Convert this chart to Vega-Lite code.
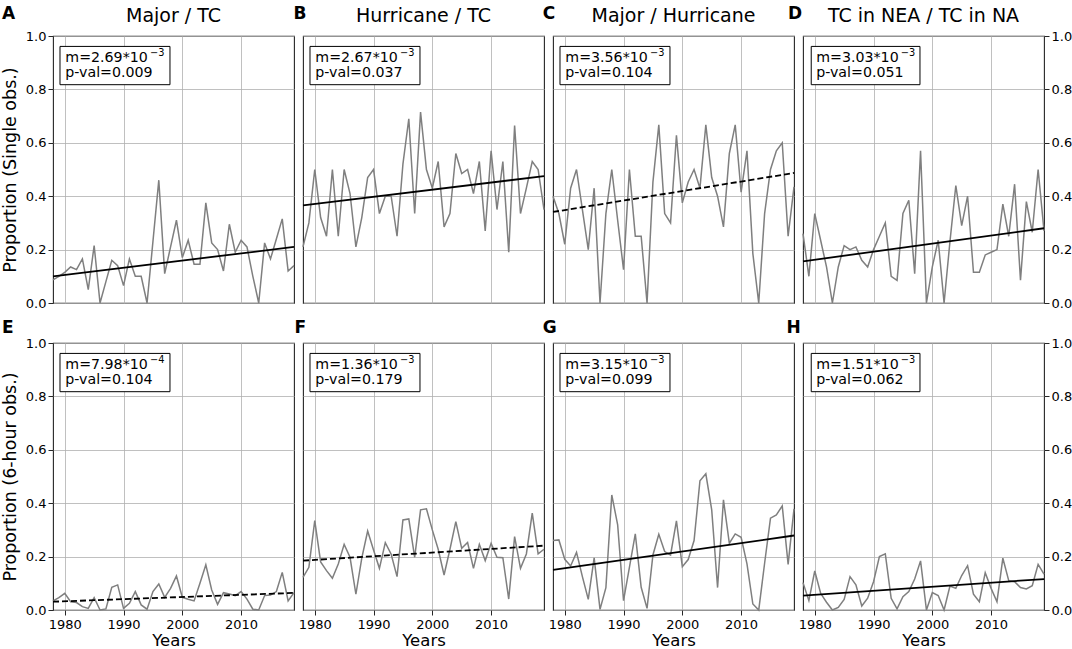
{
"$schema": "https://vega.github.io/schema/vega-lite/v6.json",
"background": "white",
"padding": {"left": 0, "top": 4, "right": 0, "bottom": 0},
"columns": 4,
"spacing": {"row": 40, "column": 9},
"bounds": "flush",
"datasets": {
"series": [
{"p":"A","year":1978,"v":0.087},{"p":"A","year":1979,"v":0.10},{"p":"A","year":1980,"v":0.115},{"p":"A","year":1981,"v":0.135},{"p":"A","year":1982,"v":0.125},{"p":"A","year":1983,"v":0.165},{"p":"A","year":1984,"v":0.05},{"p":"A","year":1985,"v":0.215},{"p":"A","year":1986,"v":0},{"p":"A","year":1987,"v":0.08},{"p":"A","year":1988,"v":0.16},{"p":"A","year":1989,"v":0.14},{"p":"A","year":1990,"v":0.065},{"p":"A","year":1991,"v":0.165},{"p":"A","year":1992,"v":0.10},{"p":"A","year":1993,"v":0.10},{"p":"A","year":1994,"v":0},{"p":"A","year":1995,"v":0.23},{"p":"A","year":1996,"v":0.46},{"p":"A","year":1997,"v":0.11},{"p":"A","year":1998,"v":0.21},{"p":"A","year":1999,"v":0.31},{"p":"A","year":2000,"v":0.17},{"p":"A","year":2001,"v":0.235},{"p":"A","year":2002,"v":0.145},{"p":"A","year":2003,"v":0.145},{"p":"A","year":2004,"v":0.375},{"p":"A","year":2005,"v":0.225},{"p":"A","year":2006,"v":0.2},{"p":"A","year":2007,"v":0.12},{"p":"A","year":2008,"v":0.295},{"p":"A","year":2009,"v":0.19},{"p":"A","year":2010,"v":0.235},{"p":"A","year":2011,"v":0.21},{"p":"A","year":2012,"v":0.1},{"p":"A","year":2013,"v":0},{"p":"A","year":2014,"v":0.225},{"p":"A","year":2015,"v":0.165},{"p":"A","year":2016,"v":0.24},{"p":"A","year":2017,"v":0.315},{"p":"A","year":2018,"v":0.12},{"p":"A","year":2019,"v":0.14},
{"p":"B","year":1978,"v":0.21},{"p":"B","year":1979,"v":0.30},{"p":"B","year":1980,"v":0.50},{"p":"B","year":1981,"v":0.32},{"p":"B","year":1982,"v":0.25},{"p":"B","year":1983,"v":0.50},{"p":"B","year":1984,"v":0.25},{"p":"B","year":1985,"v":0.50},{"p":"B","year":1986,"v":0.41},{"p":"B","year":1987,"v":0.21},{"p":"B","year":1988,"v":0.32},{"p":"B","year":1989,"v":0.47},{"p":"B","year":1990,"v":0.50},{"p":"B","year":1991,"v":0.335},{"p":"B","year":1992,"v":0.40},{"p":"B","year":1993,"v":0.40},{"p":"B","year":1994,"v":0.25},{"p":"B","year":1995,"v":0.52},{"p":"B","year":1996,"v":0.69},{"p":"B","year":1997,"v":0.335},{"p":"B","year":1998,"v":0.715},{"p":"B","year":1999,"v":0.50},{"p":"B","year":2000,"v":0.43},{"p":"B","year":2001,"v":0.53},{"p":"B","year":2002,"v":0.285},{"p":"B","year":2003,"v":0.335},{"p":"B","year":2004,"v":0.56},{"p":"B","year":2005,"v":0.485},{"p":"B","year":2006,"v":0.50},{"p":"B","year":2007,"v":0.41},{"p":"B","year":2008,"v":0.53},{"p":"B","year":2009,"v":0.27},{"p":"B","year":2010,"v":0.57},{"p":"B","year":2011,"v":0.35},{"p":"B","year":2012,"v":0.53},{"p":"B","year":2013,"v":0.19},{"p":"B","year":2014,"v":0.665},{"p":"B","year":2015,"v":0.335},{"p":"B","year":2016,"v":0.43},{"p":"B","year":2017,"v":0.53},{"p":"B","year":2018,"v":0.50},{"p":"B","year":2019,"v":0.35},
{"p":"C","year":1978,"v":0.40},{"p":"C","year":1979,"v":0.335},{"p":"C","year":1980,"v":0.22},{"p":"C","year":1981,"v":0.43},{"p":"C","year":1982,"v":0.50},{"p":"C","year":1983,"v":0.35},{"p":"C","year":1984,"v":0.20},{"p":"C","year":1985,"v":0.43},{"p":"C","year":1986,"v":0},{"p":"C","year":1987,"v":0.335},{"p":"C","year":1988,"v":0.50},{"p":"C","year":1989,"v":0.31},{"p":"C","year":1990,"v":0.125},{"p":"C","year":1991,"v":0.50},{"p":"C","year":1992,"v":0.25},{"p":"C","year":1993,"v":0.25},{"p":"C","year":1994,"v":0},{"p":"C","year":1995,"v":0.453},{"p":"C","year":1996,"v":0.667},{"p":"C","year":1997,"v":0.335},{"p":"C","year":1998,"v":0.30},{"p":"C","year":1999,"v":0.628},{"p":"C","year":2000,"v":0.375},{"p":"C","year":2001,"v":0.453},{"p":"C","year":2002,"v":0.50},{"p":"C","year":2003,"v":0.43},{"p":"C","year":2004,"v":0.667},{"p":"C","year":2005,"v":0.47},{"p":"C","year":2006,"v":0.40},{"p":"C","year":2007,"v":0.285},{"p":"C","year":2008,"v":0.56},{"p":"C","year":2009,"v":0.667},{"p":"C","year":2010,"v":0.415},{"p":"C","year":2011,"v":0.57},{"p":"C","year":2012,"v":0.185},{"p":"C","year":2013,"v":0},{"p":"C","year":2014,"v":0.335},{"p":"C","year":2015,"v":0.50},{"p":"C","year":2016,"v":0.57},{"p":"C","year":2017,"v":0.60},{"p":"C","year":2018,"v":0.25},{"p":"C","year":2019,"v":0.435},
{"p":"D","year":1978,"v":0.26},{"p":"D","year":1979,"v":0.10},{"p":"D","year":1980,"v":0.335},{"p":"D","year":1981,"v":0.235},{"p":"D","year":1982,"v":0.135},{"p":"D","year":1983,"v":0},{"p":"D","year":1984,"v":0.135},{"p":"D","year":1985,"v":0.215},{"p":"D","year":1986,"v":0.20},{"p":"D","year":1987,"v":0.21},{"p":"D","year":1988,"v":0.16},{"p":"D","year":1989,"v":0.135},{"p":"D","year":1990,"v":0.20},{"p":"D","year":1991,"v":0.25},{"p":"D","year":1992,"v":0.30},{"p":"D","year":1993,"v":0.10},{"p":"D","year":1994,"v":0.085},{"p":"D","year":1995,"v":0.335},{"p":"D","year":1996,"v":0.385},{"p":"D","year":1997,"v":0.11},{"p":"D","year":1998,"v":0.57},{"p":"D","year":1999,"v":0},{"p":"D","year":2000,"v":0.135},{"p":"D","year":2001,"v":0.235},{"p":"D","year":2002,"v":0},{"p":"D","year":2003,"v":0.23},{"p":"D","year":2004,"v":0.44},{"p":"D","year":2005,"v":0.29},{"p":"D","year":2006,"v":0.40},{"p":"D","year":2007,"v":0.115},{"p":"D","year":2008,"v":0.115},{"p":"D","year":2009,"v":0.18},{"p":"D","year":2010,"v":0.19},{"p":"D","year":2011,"v":0.20},{"p":"D","year":2012,"v":0.37},{"p":"D","year":2013,"v":0.25},{"p":"D","year":2014,"v":0.445},{"p":"D","year":2015,"v":0.085},{"p":"D","year":2016,"v":0.38},{"p":"D","year":2017,"v":0.265},{"p":"D","year":2018,"v":0.50},{"p":"D","year":2019,"v":0.27},
{"p":"E","year":1978,"v":0.034},{"p":"E","year":1979,"v":0.046},{"p":"E","year":1980,"v":0.0625},{"p":"E","year":1981,"v":0.031},{"p":"E","year":1982,"v":0.028},{"p":"E","year":1983,"v":0.0125},{"p":"E","year":1984,"v":0.006},{"p":"E","year":1985,"v":0.046},{"p":"E","year":1986,"v":0},{"p":"E","year":1987,"v":0.004},{"p":"E","year":1988,"v":0.085},{"p":"E","year":1989,"v":0.094},{"p":"E","year":1990,"v":0.006},{"p":"E","year":1991,"v":0.025},{"p":"E","year":1992,"v":0.069},{"p":"E","year":1993,"v":0.019},{"p":"E","year":1994,"v":0.003},{"p":"E","year":1995,"v":0.069},{"p":"E","year":1996,"v":0.0975},{"p":"E","year":1997,"v":0.0475},{"p":"E","year":1998,"v":0.081},{"p":"E","year":1999,"v":0.1275},{"p":"E","year":2000,"v":0.0475},{"p":"E","year":2001,"v":0.04},{"p":"E","year":2002,"v":0.034},{"p":"E","year":2003,"v":0.10},{"p":"E","year":2004,"v":0.169},{"p":"E","year":2005,"v":0.075},{"p":"E","year":2006,"v":0.021},{"p":"E","year":2007,"v":0.065},{"p":"E","year":2008,"v":0.06},{"p":"E","year":2009,"v":0.054},{"p":"E","year":2010,"v":0.069},{"p":"E","year":2011,"v":0.041},{"p":"E","year":2012,"v":0.003},{"p":"E","year":2013,"v":0},{"p":"E","year":2014,"v":0.054},{"p":"E","year":2015,"v":0.056},{"p":"E","year":2016,"v":0.069},{"p":"E","year":2017,"v":0.141},{"p":"E","year":2018,"v":0.034},{"p":"E","year":2019,"v":0.065},
{"p":"F","year":1978,"v":0.1225},{"p":"F","year":1979,"v":0.16},{"p":"F","year":1980,"v":0.335},{"p":"F","year":1981,"v":0.18},{"p":"F","year":1982,"v":0.1475},{"p":"F","year":1983,"v":0.119},{"p":"F","year":1984,"v":0.1725},{"p":"F","year":1985,"v":0.246},{"p":"F","year":1986,"v":0.1975},{"p":"F","year":1987,"v":0.059},{"p":"F","year":1988,"v":0.194},{"p":"F","year":1989,"v":0.296},{"p":"F","year":1990,"v":0.225},{"p":"F","year":1991,"v":0.156},{"p":"F","year":1992,"v":0.2525},{"p":"F","year":1993,"v":0.209},{"p":"F","year":1994,"v":0.125},{"p":"F","year":1995,"v":0.3375},{"p":"F","year":1996,"v":0.341},{"p":"F","year":1997,"v":0.1975},{"p":"F","year":1998,"v":0.375},{"p":"F","year":1999,"v":0.379},{"p":"F","year":2000,"v":0.30},{"p":"F","year":2001,"v":0.2275},{"p":"F","year":2002,"v":0.131},{"p":"F","year":2003,"v":0.2275},{"p":"F","year":2004,"v":0.331},{"p":"F","year":2005,"v":0.231},{"p":"F","year":2006,"v":0.2525},{"p":"F","year":2007,"v":0.156},{"p":"F","year":2008,"v":0.246},{"p":"F","year":2009,"v":0.185},{"p":"F","year":2010,"v":0.25},{"p":"F","year":2011,"v":0.1975},{"p":"F","year":2012,"v":0.196},{"p":"F","year":2013,"v":0.041},{"p":"F","year":2014,"v":0.275},{"p":"F","year":2015,"v":0.156},{"p":"F","year":2016,"v":0.21},{"p":"F","year":2017,"v":0.3625},{"p":"F","year":2018,"v":0.21},{"p":"F","year":2019,"v":0.2275},
{"p":"G","year":1978,"v":0.26},{"p":"G","year":1979,"v":0.2625},{"p":"G","year":1980,"v":0.19},{"p":"G","year":1981,"v":0.165},{"p":"G","year":1982,"v":0.216},{"p":"G","year":1983,"v":0.125},{"p":"G","year":1984,"v":0.04},{"p":"G","year":1985,"v":0.195},{"p":"G","year":1986,"v":0.0025},{"p":"G","year":1987,"v":0.084},{"p":"G","year":1988,"v":0.431},{"p":"G","year":1989,"v":0.319},{"p":"G","year":1990,"v":0.035},{"p":"G","year":1991,"v":0.16},{"p":"G","year":1992,"v":0.285},{"p":"G","year":1993,"v":0.085},{"p":"G","year":1994,"v":0.006},{"p":"G","year":1995,"v":0.206},{"p":"G","year":1996,"v":0.284},{"p":"G","year":1997,"v":0.219},{"p":"G","year":1998,"v":0.206},{"p":"G","year":1999,"v":0.334},{"p":"G","year":2000,"v":0.1625},{"p":"G","year":2001,"v":0.189},{"p":"G","year":2002,"v":0.26},{"p":"G","year":2003,"v":0.484},{"p":"G","year":2004,"v":0.51},{"p":"G","year":2005,"v":0.375},{"p":"G","year":2006,"v":0.084},{"p":"G","year":2007,"v":0.4125},{"p":"G","year":2008,"v":0.25},{"p":"G","year":2009,"v":0.285},{"p":"G","year":2010,"v":0.2725},{"p":"G","year":2011,"v":0.1725},{"p":"G","year":2012,"v":0.0225},{"p":"G","year":2013,"v":0},{"p":"G","year":2014,"v":0.175},{"p":"G","year":2015,"v":0.344},{"p":"G","year":2016,"v":0.356},{"p":"G","year":2017,"v":0.39},{"p":"G","year":2018,"v":0.171},{"p":"G","year":2019,"v":0.379},
{"p":"H","year":1978,"v":0.1025},{"p":"H","year":1979,"v":0.035},{"p":"H","year":1980,"v":0.146},{"p":"H","year":1981,"v":0.0625},{"p":"H","year":1982,"v":0.029},{"p":"H","year":1983,"v":0},{"p":"H","year":1984,"v":0.01},{"p":"H","year":1985,"v":0.04},{"p":"H","year":1986,"v":0.125},{"p":"H","year":1987,"v":0.094},{"p":"H","year":1988,"v":0.015},{"p":"H","year":1989,"v":0.044},{"p":"H","year":1990,"v":0.106},{"p":"H","year":1991,"v":0.20},{"p":"H","year":1992,"v":0.21},{"p":"H","year":1993,"v":0.044},{"p":"H","year":1994,"v":0.004},{"p":"H","year":1995,"v":0.05},{"p":"H","year":1996,"v":0.069},{"p":"H","year":1997,"v":0.116},{"p":"H","year":1998,"v":0.184},{"p":"H","year":1999,"v":0},{"p":"H","year":2000,"v":0.065},{"p":"H","year":2001,"v":0.054},{"p":"H","year":2002,"v":0},{"p":"H","year":2003,"v":0.09},{"p":"H","year":2004,"v":0.081},{"p":"H","year":2005,"v":0.129},{"p":"H","year":2006,"v":0.166},{"p":"H","year":2007,"v":0.059},{"p":"H","year":2008,"v":0.031},{"p":"H","year":2009,"v":0.14},{"p":"H","year":2010,"v":0.081},{"p":"H","year":2011,"v":0.031},{"p":"H","year":2012,"v":0.194},{"p":"H","year":2013,"v":0.11},{"p":"H","year":2014,"v":0.106},{"p":"H","year":2015,"v":0.084},{"p":"H","year":2016,"v":0.079},{"p":"H","year":2017,"v":0.091},{"p":"H","year":2018,"v":0.171},{"p":"H","year":2019,"v":0.134}
],
"trend": [
{"p":"A","year":1978,"v":0.100},{"p":"A","year":2019,"v":0.210},
{"p":"B","year":1978,"v":0.366},{"p":"B","year":2019,"v":0.475},
{"p":"C","year":1978,"v":0.341},{"p":"C","year":2019,"v":0.487},
{"p":"D","year":1978,"v":0.156},{"p":"D","year":2019,"v":0.280},
{"p":"E","year":1978,"v":0.031},{"p":"E","year":2019,"v":0.064},
{"p":"F","year":1978,"v":0.185},{"p":"F","year":2019,"v":0.241},
{"p":"G","year":1978,"v":0.150},{"p":"G","year":2019,"v":0.279},
{"p":"H","year":1978,"v":0.054},{"p":"H","year":2019,"v":0.116}
],
"notes": [
{"p":"A","m":"m=2.69*10","e":"−3","pv":"p-val=0.009","head":"Major / TC"},
{"p":"B","m":"m=2.67*10","e":"−3","pv":"p-val=0.037","head":"Hurricane / TC"},
{"p":"C","m":"m=3.56*10","e":"−3","pv":"p-val=0.104","head":"Major / Hurricane"},
{"p":"D","m":"m=3.03*10","e":"−3","pv":"p-val=0.051","head":"TC in NEA / TC in NA"},
{"p":"E","m":"m=7.98*10","e":"−4","pv":"p-val=0.104","head":""},
{"p":"F","m":"m=1.36*10","e":"−3","pv":"p-val=0.179","head":""},
{"p":"G","m":"m=3.15*10","e":"−3","pv":"p-val=0.099","head":""},
{"p":"H","m":"m=1.51*10","e":"−3","pv":"p-val=0.062","head":""}
]
},
"concat": [
{"width": 241, "height": 267, "layer": [
 {"data": {"name": "series"}, "transform": [{"filter": "datum.p === 'A'"}], "mark": {"type": "line", "color": "#7f7f7f", "strokeWidth": 1.5},
  "encoding": {"x": {"field": "year", "type": "quantitative", "scale": {"domain": [1978, 2019], "nice": false, "zero": false}, "axis": {"values": [1980,1990,2000,2010], "labels": false, "ticks": false, "title": null, "grid": true}},
   "y": {"field": "v", "type": "quantitative", "scale": {"domain": [0, 1], "nice": false, "zero": false}, "axis": {"orient": "left", "values": [0,0.2,0.4,0.6,0.8,1], "format": ".1f", "title": "Proportion (Single obs.)", "titleFontSize": 17.5, "titlePadding": 6, "grid": true}}}},
 {"data": {"name": "trend"}, "transform": [{"filter": "datum.p === 'A'"}], "mark": {"type": "line", "color": "black", "strokeWidth": 1.8}, "encoding": {"x": {"field": "year", "type": "quantitative"}, "y": {"field": "v", "type": "quantitative"}}},
 {"data": {"name": "notes"}, "transform": [{"filter": "datum.p === 'A'"}], "mark": {"type": "rect", "fill": "white", "stroke": "black", "strokeWidth": 1}, "encoding": {"x": {"datum": 1979.19, "type": "quantitative"}, "x2": {"datum": 1997.9}, "y": {"datum": 0.961, "type": "quantitative"}, "y2": {"datum": 0.8176}}},
 {"data": {"name": "notes"}, "transform": [{"filter": "datum.p === 'A'"}], "mark": {"type": "text", "align": "left", "baseline": "alphabetic", "fontSize": 14.2}, "encoding": {"x": {"datum": 1980.1, "type": "quantitative"}, "y": {"datum": 0.9026, "type": "quantitative"}, "text": {"field": "m"}}},
 {"data": {"name": "notes"}, "transform": [{"filter": "datum.p === 'A'"}], "mark": {"type": "text", "align": "left", "baseline": "alphabetic", "fontSize": 9.8}, "encoding": {"x": {"datum": 1994.5, "type": "quantitative"}, "y": {"datum": 0.924, "type": "quantitative"}, "text": {"field": "e"}}},
 {"data": {"name": "notes"}, "transform": [{"filter": "datum.p === 'A'"}], "mark": {"type": "text", "align": "left", "baseline": "alphabetic", "fontSize": 14.2}, "encoding": {"x": {"datum": 1980.1, "type": "quantitative"}, "y": {"datum": 0.848, "type": "quantitative"}, "text": {"field": "pv"}}},
 {"data": {"name": "notes"}, "transform": [{"filter": "datum.p === 'A'"}], "mark": {"type": "text", "align": "center", "baseline": "alphabetic", "fontSize": 19}, "encoding": {"x": {"datum": 1998.5, "type": "quantitative"}, "y": {"datum": 1.0536, "type": "quantitative"}, "text": {"field": "head"}}},
 {"data": {"name": "notes"}, "transform": [{"filter": "datum.p === 'A'"}], "mark": {"type": "text", "align": "left", "baseline": "alphabetic", "fontSize": 17, "fontWeight": "bold"}, "encoding": {"x": {"datum": 1969.32, "type": "quantitative"}, "y": {"datum": 1.0637, "type": "quantitative"}, "text": {"field": "p"}}}
]},
{"width": 241, "height": 267, "layer": [
 {"data": {"name": "series"}, "transform": [{"filter": "datum.p === 'B'"}], "mark": {"type": "line", "color": "#7f7f7f", "strokeWidth": 1.5},
  "encoding": {"x": {"field": "year", "type": "quantitative", "scale": {"domain": [1978, 2019], "nice": false, "zero": false}, "axis": {"values": [1980,1990,2000,2010], "labels": false, "ticks": false, "title": null, "grid": true}},
   "y": {"field": "v", "type": "quantitative", "scale": {"domain": [0, 1], "nice": false, "zero": false}, "axis": {"values": [0,0.2,0.4,0.6,0.8,1], "labels": false, "ticks": false, "title": null, "grid": true}}}},
 {"data": {"name": "trend"}, "transform": [{"filter": "datum.p === 'B'"}], "mark": {"type": "line", "color": "black", "strokeWidth": 1.8}, "encoding": {"x": {"field": "year", "type": "quantitative"}, "y": {"field": "v", "type": "quantitative"}}},
 {"data": {"name": "notes"}, "transform": [{"filter": "datum.p === 'B'"}], "mark": {"type": "rect", "fill": "white", "stroke": "black", "strokeWidth": 1}, "encoding": {"x": {"datum": 1979.19, "type": "quantitative"}, "x2": {"datum": 1997.9}, "y": {"datum": 0.961, "type": "quantitative"}, "y2": {"datum": 0.8176}}},
 {"data": {"name": "notes"}, "transform": [{"filter": "datum.p === 'B'"}], "mark": {"type": "text", "align": "left", "baseline": "alphabetic", "fontSize": 14.2}, "encoding": {"x": {"datum": 1980.1, "type": "quantitative"}, "y": {"datum": 0.9026, "type": "quantitative"}, "text": {"field": "m"}}},
 {"data": {"name": "notes"}, "transform": [{"filter": "datum.p === 'B'"}], "mark": {"type": "text", "align": "left", "baseline": "alphabetic", "fontSize": 9.8}, "encoding": {"x": {"datum": 1994.5, "type": "quantitative"}, "y": {"datum": 0.924, "type": "quantitative"}, "text": {"field": "e"}}},
 {"data": {"name": "notes"}, "transform": [{"filter": "datum.p === 'B'"}], "mark": {"type": "text", "align": "left", "baseline": "alphabetic", "fontSize": 14.2}, "encoding": {"x": {"datum": 1980.1, "type": "quantitative"}, "y": {"datum": 0.848, "type": "quantitative"}, "text": {"field": "pv"}}},
 {"data": {"name": "notes"}, "transform": [{"filter": "datum.p === 'B'"}], "mark": {"type": "text", "align": "center", "baseline": "alphabetic", "fontSize": 19}, "encoding": {"x": {"datum": 1998.5, "type": "quantitative"}, "y": {"datum": 1.0536, "type": "quantitative"}, "text": {"field": "head"}}},
 {"data": {"name": "notes"}, "transform": [{"filter": "datum.p === 'B'"}], "mark": {"type": "text", "align": "left", "baseline": "alphabetic", "fontSize": 17, "fontWeight": "bold"}, "encoding": {"x": {"datum": 1976.38, "type": "quantitative"}, "y": {"datum": 1.0637, "type": "quantitative"}, "text": {"field": "p"}}}
]},
{"width": 241, "height": 267, "layer": [
 {"data": {"name": "series"}, "transform": [{"filter": "datum.p === 'C'"}], "mark": {"type": "line", "color": "#7f7f7f", "strokeWidth": 1.5},
  "encoding": {"x": {"field": "year", "type": "quantitative", "scale": {"domain": [1978, 2019], "nice": false, "zero": false}, "axis": {"values": [1980,1990,2000,2010], "labels": false, "ticks": false, "title": null, "grid": true}},
   "y": {"field": "v", "type": "quantitative", "scale": {"domain": [0, 1], "nice": false, "zero": false}, "axis": {"values": [0,0.2,0.4,0.6,0.8,1], "labels": false, "ticks": false, "title": null, "grid": true}}}},
 {"data": {"name": "trend"}, "transform": [{"filter": "datum.p === 'C'"}], "mark": {"type": "line", "color": "black", "strokeWidth": 1.8, "strokeDash": [6, 3]}, "encoding": {"x": {"field": "year", "type": "quantitative"}, "y": {"field": "v", "type": "quantitative"}}},
 {"data": {"name": "notes"}, "transform": [{"filter": "datum.p === 'C'"}], "mark": {"type": "rect", "fill": "white", "stroke": "black", "strokeWidth": 1}, "encoding": {"x": {"datum": 1979.19, "type": "quantitative"}, "x2": {"datum": 1997.9}, "y": {"datum": 0.961, "type": "quantitative"}, "y2": {"datum": 0.8176}}},
 {"data": {"name": "notes"}, "transform": [{"filter": "datum.p === 'C'"}], "mark": {"type": "text", "align": "left", "baseline": "alphabetic", "fontSize": 14.2}, "encoding": {"x": {"datum": 1980.1, "type": "quantitative"}, "y": {"datum": 0.9026, "type": "quantitative"}, "text": {"field": "m"}}},
 {"data": {"name": "notes"}, "transform": [{"filter": "datum.p === 'C'"}], "mark": {"type": "text", "align": "left", "baseline": "alphabetic", "fontSize": 9.8}, "encoding": {"x": {"datum": 1994.5, "type": "quantitative"}, "y": {"datum": 0.924, "type": "quantitative"}, "text": {"field": "e"}}},
 {"data": {"name": "notes"}, "transform": [{"filter": "datum.p === 'C'"}], "mark": {"type": "text", "align": "left", "baseline": "alphabetic", "fontSize": 14.2}, "encoding": {"x": {"datum": 1980.1, "type": "quantitative"}, "y": {"datum": 0.848, "type": "quantitative"}, "text": {"field": "pv"}}},
 {"data": {"name": "notes"}, "transform": [{"filter": "datum.p === 'C'"}], "mark": {"type": "text", "align": "center", "baseline": "alphabetic", "fontSize": 19}, "encoding": {"x": {"datum": 1998.5, "type": "quantitative"}, "y": {"datum": 1.0536, "type": "quantitative"}, "text": {"field": "head"}}},
 {"data": {"name": "notes"}, "transform": [{"filter": "datum.p === 'C'"}], "mark": {"type": "text", "align": "left", "baseline": "alphabetic", "fontSize": 17, "fontWeight": "bold"}, "encoding": {"x": {"datum": 1976.25, "type": "quantitative"}, "y": {"datum": 1.0637, "type": "quantitative"}, "text": {"field": "p"}}}
]},
{"width": 241, "height": 267, "layer": [
 {"data": {"name": "series"}, "transform": [{"filter": "datum.p === 'D'"}], "mark": {"type": "line", "color": "#7f7f7f", "strokeWidth": 1.5},
  "encoding": {"x": {"field": "year", "type": "quantitative", "scale": {"domain": [1978, 2019], "nice": false, "zero": false}, "axis": {"values": [1980,1990,2000,2010], "labels": false, "ticks": false, "title": null, "grid": true}},
   "y": {"field": "v", "type": "quantitative", "scale": {"domain": [0, 1], "nice": false, "zero": false}, "axis": {"orient": "right", "values": [0,0.2,0.4,0.6,0.8,1], "format": ".1f", "title": null, "grid": true}}}},
 {"data": {"name": "trend"}, "transform": [{"filter": "datum.p === 'D'"}], "mark": {"type": "line", "color": "black", "strokeWidth": 1.8}, "encoding": {"x": {"field": "year", "type": "quantitative"}, "y": {"field": "v", "type": "quantitative"}}},
 {"data": {"name": "notes"}, "transform": [{"filter": "datum.p === 'D'"}], "mark": {"type": "rect", "fill": "white", "stroke": "black", "strokeWidth": 1}, "encoding": {"x": {"datum": 1979.4, "type": "quantitative"}, "x2": {"datum": 1997.9}, "y": {"datum": 0.961, "type": "quantitative"}, "y2": {"datum": 0.8176}}},
 {"data": {"name": "notes"}, "transform": [{"filter": "datum.p === 'D'"}], "mark": {"type": "text", "align": "left", "baseline": "alphabetic", "fontSize": 14.2}, "encoding": {"x": {"datum": 1980.25, "type": "quantitative"}, "y": {"datum": 0.9026, "type": "quantitative"}, "text": {"field": "m"}}},
 {"data": {"name": "notes"}, "transform": [{"filter": "datum.p === 'D'"}], "mark": {"type": "text", "align": "left", "baseline": "alphabetic", "fontSize": 9.8}, "encoding": {"x": {"datum": 1994.65, "type": "quantitative"}, "y": {"datum": 0.924, "type": "quantitative"}, "text": {"field": "e"}}},
 {"data": {"name": "notes"}, "transform": [{"filter": "datum.p === 'D'"}], "mark": {"type": "text", "align": "left", "baseline": "alphabetic", "fontSize": 14.2}, "encoding": {"x": {"datum": 1980.25, "type": "quantitative"}, "y": {"datum": 0.848, "type": "quantitative"}, "text": {"field": "pv"}}},
 {"data": {"name": "notes"}, "transform": [{"filter": "datum.p === 'D'"}], "mark": {"type": "text", "align": "center", "baseline": "alphabetic", "fontSize": 19}, "encoding": {"x": {"datum": 1998.5, "type": "quantitative"}, "y": {"datum": 1.0536, "type": "quantitative"}, "text": {"field": "head"}}},
 {"data": {"name": "notes"}, "transform": [{"filter": "datum.p === 'D'"}], "mark": {"type": "text", "align": "left", "baseline": "alphabetic", "fontSize": 17, "fontWeight": "bold"}, "encoding": {"x": {"datum": 1975.45, "type": "quantitative"}, "y": {"datum": 1.0637, "type": "quantitative"}, "text": {"field": "p"}}}
]},
{"width": 241, "height": 267, "layer": [
 {"data": {"name": "series"}, "transform": [{"filter": "datum.p === 'E'"}], "mark": {"type": "line", "color": "#7f7f7f", "strokeWidth": 1.5},
  "encoding": {"x": {"field": "year", "type": "quantitative", "scale": {"domain": [1978, 2019], "nice": false, "zero": false}, "axis": {"values": [1980,1990,2000,2010], "format": "d", "title": "Years", "titleFontSize": 16.5, "titlePadding": 1, "labelPadding": 3, "grid": true}},
   "y": {"field": "v", "type": "quantitative", "scale": {"domain": [0, 1], "nice": false, "zero": false}, "axis": {"orient": "left", "values": [0,0.2,0.4,0.6,0.8,1], "format": ".1f", "title": "Proportion (6-hour obs.)", "titleFontSize": 17.5, "titlePadding": 6, "grid": true}}}},
 {"data": {"name": "trend"}, "transform": [{"filter": "datum.p === 'E'"}], "mark": {"type": "line", "color": "black", "strokeWidth": 1.8, "strokeDash": [6, 3]}, "encoding": {"x": {"field": "year", "type": "quantitative"}, "y": {"field": "v", "type": "quantitative"}}},
 {"data": {"name": "notes"}, "transform": [{"filter": "datum.p === 'E'"}], "mark": {"type": "rect", "fill": "white", "stroke": "black", "strokeWidth": 1}, "encoding": {"x": {"datum": 1979.19, "type": "quantitative"}, "x2": {"datum": 1997.9}, "y": {"datum": 0.961, "type": "quantitative"}, "y2": {"datum": 0.8176}}},
 {"data": {"name": "notes"}, "transform": [{"filter": "datum.p === 'E'"}], "mark": {"type": "text", "align": "left", "baseline": "alphabetic", "fontSize": 14.2}, "encoding": {"x": {"datum": 1980.1, "type": "quantitative"}, "y": {"datum": 0.9026, "type": "quantitative"}, "text": {"field": "m"}}},
 {"data": {"name": "notes"}, "transform": [{"filter": "datum.p === 'E'"}], "mark": {"type": "text", "align": "left", "baseline": "alphabetic", "fontSize": 9.8}, "encoding": {"x": {"datum": 1994.5, "type": "quantitative"}, "y": {"datum": 0.924, "type": "quantitative"}, "text": {"field": "e"}}},
 {"data": {"name": "notes"}, "transform": [{"filter": "datum.p === 'E'"}], "mark": {"type": "text", "align": "left", "baseline": "alphabetic", "fontSize": 14.2}, "encoding": {"x": {"datum": 1980.1, "type": "quantitative"}, "y": {"datum": 0.848, "type": "quantitative"}, "text": {"field": "pv"}}},
 {"data": {"name": "notes"}, "transform": [{"filter": "datum.p === 'E'"}], "mark": {"type": "text", "align": "left", "baseline": "alphabetic", "fontSize": 17, "fontWeight": "bold"}, "encoding": {"x": {"datum": 1969.32, "type": "quantitative"}, "y": {"datum": 1.0356, "type": "quantitative"}, "text": {"field": "p"}}}
]},
{"width": 241, "height": 267, "layer": [
 {"data": {"name": "series"}, "transform": [{"filter": "datum.p === 'F'"}], "mark": {"type": "line", "color": "#7f7f7f", "strokeWidth": 1.5},
  "encoding": {"x": {"field": "year", "type": "quantitative", "scale": {"domain": [1978, 2019], "nice": false, "zero": false}, "axis": {"values": [1980,1990,2000,2010], "format": "d", "title": "Years", "titleFontSize": 16.5, "titlePadding": 1, "labelPadding": 3, "grid": true}},
   "y": {"field": "v", "type": "quantitative", "scale": {"domain": [0, 1], "nice": false, "zero": false}, "axis": {"values": [0,0.2,0.4,0.6,0.8,1], "labels": false, "ticks": false, "title": null, "grid": true}}}},
 {"data": {"name": "trend"}, "transform": [{"filter": "datum.p === 'F'"}], "mark": {"type": "line", "color": "black", "strokeWidth": 1.8, "strokeDash": [6, 3]}, "encoding": {"x": {"field": "year", "type": "quantitative"}, "y": {"field": "v", "type": "quantitative"}}},
 {"data": {"name": "notes"}, "transform": [{"filter": "datum.p === 'F'"}], "mark": {"type": "rect", "fill": "white", "stroke": "black", "strokeWidth": 1}, "encoding": {"x": {"datum": 1979.19, "type": "quantitative"}, "x2": {"datum": 1997.9}, "y": {"datum": 0.961, "type": "quantitative"}, "y2": {"datum": 0.8176}}},
 {"data": {"name": "notes"}, "transform": [{"filter": "datum.p === 'F'"}], "mark": {"type": "text", "align": "left", "baseline": "alphabetic", "fontSize": 14.2}, "encoding": {"x": {"datum": 1980.1, "type": "quantitative"}, "y": {"datum": 0.9026, "type": "quantitative"}, "text": {"field": "m"}}},
 {"data": {"name": "notes"}, "transform": [{"filter": "datum.p === 'F'"}], "mark": {"type": "text", "align": "left", "baseline": "alphabetic", "fontSize": 9.8}, "encoding": {"x": {"datum": 1994.5, "type": "quantitative"}, "y": {"datum": 0.924, "type": "quantitative"}, "text": {"field": "e"}}},
 {"data": {"name": "notes"}, "transform": [{"filter": "datum.p === 'F'"}], "mark": {"type": "text", "align": "left", "baseline": "alphabetic", "fontSize": 14.2}, "encoding": {"x": {"datum": 1980.1, "type": "quantitative"}, "y": {"datum": 0.848, "type": "quantitative"}, "text": {"field": "pv"}}},
 {"data": {"name": "notes"}, "transform": [{"filter": "datum.p === 'F'"}], "mark": {"type": "text", "align": "left", "baseline": "alphabetic", "fontSize": 17, "fontWeight": "bold"}, "encoding": {"x": {"datum": 1976.55, "type": "quantitative"}, "y": {"datum": 1.0356, "type": "quantitative"}, "text": {"field": "p"}}}
]},
{"width": 241, "height": 267, "layer": [
 {"data": {"name": "series"}, "transform": [{"filter": "datum.p === 'G'"}], "mark": {"type": "line", "color": "#7f7f7f", "strokeWidth": 1.5},
  "encoding": {"x": {"field": "year", "type": "quantitative", "scale": {"domain": [1978, 2019], "nice": false, "zero": false}, "axis": {"values": [1980,1990,2000,2010], "format": "d", "title": "Years", "titleFontSize": 16.5, "titlePadding": 1, "labelPadding": 3, "grid": true}},
   "y": {"field": "v", "type": "quantitative", "scale": {"domain": [0, 1], "nice": false, "zero": false}, "axis": {"values": [0,0.2,0.4,0.6,0.8,1], "labels": false, "ticks": false, "title": null, "grid": true}}}},
 {"data": {"name": "trend"}, "transform": [{"filter": "datum.p === 'G'"}], "mark": {"type": "line", "color": "black", "strokeWidth": 1.8}, "encoding": {"x": {"field": "year", "type": "quantitative"}, "y": {"field": "v", "type": "quantitative"}}},
 {"data": {"name": "notes"}, "transform": [{"filter": "datum.p === 'G'"}], "mark": {"type": "rect", "fill": "white", "stroke": "black", "strokeWidth": 1}, "encoding": {"x": {"datum": 1979.19, "type": "quantitative"}, "x2": {"datum": 1997.9}, "y": {"datum": 0.961, "type": "quantitative"}, "y2": {"datum": 0.8176}}},
 {"data": {"name": "notes"}, "transform": [{"filter": "datum.p === 'G'"}], "mark": {"type": "text", "align": "left", "baseline": "alphabetic", "fontSize": 14.2}, "encoding": {"x": {"datum": 1980.1, "type": "quantitative"}, "y": {"datum": 0.9026, "type": "quantitative"}, "text": {"field": "m"}}},
 {"data": {"name": "notes"}, "transform": [{"filter": "datum.p === 'G'"}], "mark": {"type": "text", "align": "left", "baseline": "alphabetic", "fontSize": 9.8}, "encoding": {"x": {"datum": 1994.5, "type": "quantitative"}, "y": {"datum": 0.924, "type": "quantitative"}, "text": {"field": "e"}}},
 {"data": {"name": "notes"}, "transform": [{"filter": "datum.p === 'G'"}], "mark": {"type": "text", "align": "left", "baseline": "alphabetic", "fontSize": 14.2}, "encoding": {"x": {"datum": 1980.1, "type": "quantitative"}, "y": {"datum": 0.848, "type": "quantitative"}, "text": {"field": "pv"}}},
 {"data": {"name": "notes"}, "transform": [{"filter": "datum.p === 'G'"}], "mark": {"type": "text", "align": "left", "baseline": "alphabetic", "fontSize": 17, "fontWeight": "bold"}, "encoding": {"x": {"datum": 1976.25, "type": "quantitative"}, "y": {"datum": 1.0356, "type": "quantitative"}, "text": {"field": "p"}}}
]},
{"width": 241, "height": 267, "layer": [
 {"data": {"name": "series"}, "transform": [{"filter": "datum.p === 'H'"}], "mark": {"type": "line", "color": "#7f7f7f", "strokeWidth": 1.5},
  "encoding": {"x": {"field": "year", "type": "quantitative", "scale": {"domain": [1978, 2019], "nice": false, "zero": false}, "axis": {"values": [1980,1990,2000,2010], "format": "d", "title": "Years", "titleFontSize": 16.5, "titlePadding": 1, "labelPadding": 3, "grid": true}},
   "y": {"field": "v", "type": "quantitative", "scale": {"domain": [0, 1], "nice": false, "zero": false}, "axis": {"orient": "right", "values": [0,0.2,0.4,0.6,0.8,1], "format": ".1f", "title": null, "grid": true}}}},
 {"data": {"name": "trend"}, "transform": [{"filter": "datum.p === 'H'"}], "mark": {"type": "line", "color": "black", "strokeWidth": 1.8}, "encoding": {"x": {"field": "year", "type": "quantitative"}, "y": {"field": "v", "type": "quantitative"}}},
 {"data": {"name": "notes"}, "transform": [{"filter": "datum.p === 'H'"}], "mark": {"type": "rect", "fill": "white", "stroke": "black", "strokeWidth": 1}, "encoding": {"x": {"datum": 1979.4, "type": "quantitative"}, "x2": {"datum": 1997.9}, "y": {"datum": 0.961, "type": "quantitative"}, "y2": {"datum": 0.8176}}},
 {"data": {"name": "notes"}, "transform": [{"filter": "datum.p === 'H'"}], "mark": {"type": "text", "align": "left", "baseline": "alphabetic", "fontSize": 14.2}, "encoding": {"x": {"datum": 1980.25, "type": "quantitative"}, "y": {"datum": 0.9026, "type": "quantitative"}, "text": {"field": "m"}}},
 {"data": {"name": "notes"}, "transform": [{"filter": "datum.p === 'H'"}], "mark": {"type": "text", "align": "left", "baseline": "alphabetic", "fontSize": 9.8}, "encoding": {"x": {"datum": 1994.65, "type": "quantitative"}, "y": {"datum": 0.924, "type": "quantitative"}, "text": {"field": "e"}}},
 {"data": {"name": "notes"}, "transform": [{"filter": "datum.p === 'H'"}], "mark": {"type": "text", "align": "left", "baseline": "alphabetic", "fontSize": 14.2}, "encoding": {"x": {"datum": 1980.25, "type": "quantitative"}, "y": {"datum": 0.848, "type": "quantitative"}, "text": {"field": "pv"}}},
 {"data": {"name": "notes"}, "transform": [{"filter": "datum.p === 'H'"}], "mark": {"type": "text", "align": "left", "baseline": "alphabetic", "fontSize": 17, "fontWeight": "bold"}, "encoding": {"x": {"datum": 1975.2, "type": "quantitative"}, "y": {"datum": 1.0356, "type": "quantitative"}, "text": {"field": "p"}}}
]}
],
"config": {
 "view": {"stroke": "#262626", "strokeWidth": 1.1},
 "axis": {"labelFont": "DejaVu Sans", "labelFontSize": 13, "labelColor": "#000000", "titleFont": "DejaVu Sans", "titleFontWeight": "normal", "titleColor": "#000000", "gridColor": "#b0b0b0", "gridWidth": 0.8, "domain": false, "tickColor": "#262626", "tickSize": 5, "tickWidth": 1, "labelPadding": 2, "labelFlush": false, "labelOverlap": false},
 "text": {"font": "DejaVu Sans", "color": "#000000"}
}
}
